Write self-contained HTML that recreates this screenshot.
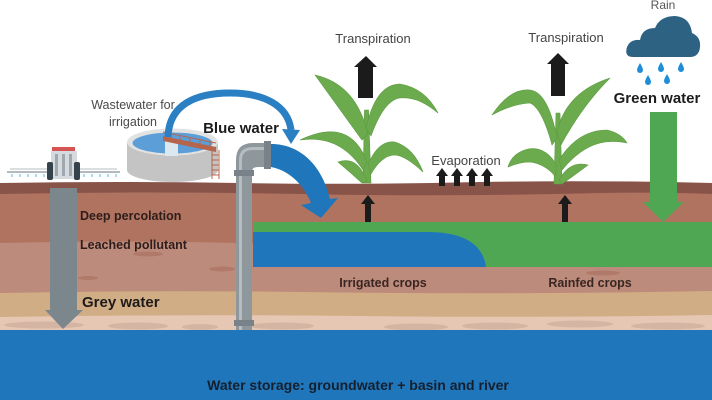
<!DOCTYPE html>
<html><head><meta charset="utf-8">
<style>
html,body{margin:0;padding:0;background:#fff;}
svg{display:block;}
text{font-family:"Liberation Sans",sans-serif;}
</style></head>
<body>
<svg width="712" height="400" viewBox="0 0 712 400" xmlns="http://www.w3.org/2000/svg">
<rect width="712" height="400" fill="#ffffff"/>
<!-- soil layers -->
<path d="M0,183 Q120,181 240,183 Q360,185 480,182 Q600,180 712,183 L712,400 L0,400 Z" fill="#88544a"/>
<path d="M0,194 Q150,191 300,194 Q450,197 600,193 Q660,192 712,194 L712,400 L0,400 Z" fill="#b0735f"/>
<path d="M0,243 Q120,240 240,243 Q400,246 560,242 Q640,241 712,243 L712,400 L0,400 Z" fill="#bd8b7b"/>
<path d="M0,293 Q150,290 300,292 Q500,295 712,291 L712,400 L0,400 Z" fill="#d0ad85"/>
<path d="M0,317 Q180,314 360,316 Q540,318 712,315 L712,400 L0,400 Z" fill="#e5c7b3"/>
<!-- spots -->
<ellipse cx="148" cy="254" rx="15" ry="2.5" fill="#b0796a"/>
<ellipse cx="222" cy="269" rx="13" ry="2.5" fill="#b0796a"/>
<ellipse cx="88" cy="278" rx="10" ry="2" fill="#b0796a"/>
<ellipse cx="603" cy="273" rx="17" ry="2.5" fill="#b0796a"/>
<ellipse cx="44" cy="325" rx="40" ry="3.5" fill="#d4b4a2"/>
<ellipse cx="138" cy="326" rx="30" ry="3.5" fill="#d4b4a2"/>
<ellipse cx="200" cy="327" rx="18" ry="3" fill="#d4b4a2"/>
<ellipse cx="282" cy="326" rx="32" ry="3.5" fill="#d4b4a2"/>
<ellipse cx="416" cy="327" rx="32" ry="3.5" fill="#d4b4a2"/>
<ellipse cx="495" cy="326" rx="33" ry="3.5" fill="#d4b4a2"/>
<ellipse cx="580" cy="324" rx="33" ry="3.5" fill="#d4b4a2"/>
<ellipse cx="668" cy="326" rx="37" ry="3.5" fill="#d4b4a2"/>
<!-- water storage -->
<rect x="0" y="330" width="712" height="70" fill="#2076bb"/>
<text x="358" y="390" text-anchor="middle" font-size="14" font-weight="bold" fill="#14202e">Water storage: groundwater + basin and river</text>
<!-- green & blue root zone -->
<rect x="253" y="222" width="459" height="45" fill="#4fa754"/>
<path d="M253,232 L427,232 Q481,232 486,267 L253,267 Z" fill="#2076bb"/>
<text x="383" y="287" text-anchor="middle" font-size="12.5" font-weight="bold" fill="#3a2622">Irrigated crops</text>
<text x="590" y="287" text-anchor="middle" font-size="12.5" font-weight="bold" fill="#3a2622">Rainfed crops</text>
<!-- grey arrow -->
<rect x="50" y="188" width="27" height="123" fill="#7b868d"/>
<polygon points="45,310 83,310 63,329" fill="#7b868d"/>
<text x="80" y="220" font-size="12.5" font-weight="bold" fill="#2e1d1b">Deep percolation</text>
<text x="80" y="249" font-size="12.5" font-weight="bold" fill="#2e1d1b">Leached pollutant</text>
<text x="82" y="307" font-size="15" font-weight="bold" fill="#1e1a1a">Grey water</text>
<!-- tractor -->
<g>
<line x1="7" y1="172" x2="120" y2="172" stroke="#9aa3a8" stroke-width="1.5"/>
<line x1="10" y1="169" x2="117" y2="169" stroke="#b5bcc0" stroke-width="1"/>
<g stroke="#8fd0ea" stroke-width="1.5">
<line x1="12" y1="174" x2="12" y2="177"/><line x1="20" y1="174" x2="20" y2="177"/><line x1="28" y1="174" x2="28" y2="177"/><line x1="36" y1="174" x2="36" y2="177"/><line x1="44" y1="174" x2="44" y2="177"/>
<line x1="84" y1="174" x2="84" y2="177"/><line x1="92" y1="174" x2="92" y2="177"/><line x1="100" y1="174" x2="100" y2="177"/><line x1="108" y1="174" x2="108" y2="177"/><line x1="116" y1="174" x2="116" y2="177"/>
</g>
<rect x="51" y="151" width="26" height="28" fill="#d5dade"/>
<rect x="55" y="154" width="3" height="22" fill="#9fa8ae"/>
<rect x="62" y="154" width="3" height="22" fill="#9fa8ae"/>
<rect x="69" y="154" width="3" height="22" fill="#9fa8ae"/>
<rect x="52" y="147" width="23" height="4" fill="#d65454"/>
<rect x="47" y="162" width="6" height="18" rx="2" fill="#34424c"/>
<rect x="74" y="162" width="6" height="18" rx="2" fill="#34424c"/>
</g>
<!-- tank -->
<path d="M127,142 L127,170 A45.5,12 0 0 0 218,170 L218,142 Z" fill="#c4c4c4"/>
<ellipse cx="172.5" cy="142" rx="45.5" ry="13.5" fill="#e2e2e2"/>
<ellipse cx="172.5" cy="143" rx="40" ry="10.5" fill="#5c9fd8"/>
<rect x="165" y="140" width="13" height="16" fill="#dce8ef"/>
<polygon points="163,136 216,147 216,152 163,141" fill="#b5654c"/>
<g stroke="#b5654c" stroke-width="1">
<line x1="163" y1="132" x2="216" y2="143"/>
<line x1="170" y1="133" x2="170" y2="139"/><line x1="180" y1="135" x2="180" y2="141"/><line x1="190" y1="137" x2="190" y2="143"/><line x1="200" y1="139" x2="200" y2="145"/><line x1="210" y1="141" x2="210" y2="147"/>
<line x1="212" y1="150" x2="212" y2="179"/><line x1="219" y1="150" x2="219" y2="179"/>
<line x1="212" y1="155" x2="219" y2="155"/><line x1="212" y1="160" x2="219" y2="160"/><line x1="212" y1="165" x2="219" y2="165"/><line x1="212" y1="170" x2="219" y2="170"/><line x1="212" y1="175" x2="219" y2="175"/>
</g>
<text x="133" y="109" text-anchor="middle" font-size="12.5" fill="#4a4a4a">Wastewater for</text>
<text x="133" y="126" text-anchor="middle" font-size="12.5" fill="#4a4a4a">irrigation</text>
<!-- blue arc -->
<path d="M168,137 C169,105 195,93 230,93 C265,93 288,106 291,130" fill="none" stroke="#2b7fc3" stroke-width="7"/>
<polygon points="282,129 300,130 291,144" fill="#2b7fc3"/>
<text x="241" y="133" text-anchor="middle" font-size="15" font-weight="bold" fill="#1c1c1c">Blue water</text>
<!-- pipe -->
<rect x="236" y="165" width="16" height="165" fill="#8e979c"/>
<rect x="239" y="165" width="3" height="165" fill="#b6bdc1"/>
<path d="M236,172 L236,160 Q236,143 253,143 L266,143 L266,167 L258,167 Q252,167 252,172 Z" fill="#8e979c"/>
<path d="M239,170 L239,160 Q239,147 253,147 L266,147 L266,150 L253,150 Q242,150 242,160 L242,170 Z" fill="#b6bdc1"/>
<rect x="234" y="170" width="20" height="6" fill="#788288"/>
<rect x="264" y="141" width="7" height="28" fill="#788288"/>
<rect x="234" y="320" width="20" height="6" fill="#788288"/>
<!-- blue outflow arrow -->
<path d="M271,144 C300,144 322,165 330,199 L338,198 L321,218 L301,205 L311,203 C305,188 292,171 271,167 Z" fill="#2076bb"/>
<!-- plant 1 -->
<g fill="#6cab4d" stroke="#5c9a40" stroke-width="0.6">
<path d="M363,183 L364.5,110 L368.5,110 L371,183 Z"/>
<path d="M368,134 Q356,84 315,75 Q336,104 362,140 Z"/>
<path d="M366,128 Q376,84 400,84 Q425,88 438,113 Q418,96 400,98 Q384,100 371,136 Z"/>
<path d="M367,162 Q350,116 300,140 Q340,134 363,170 Z"/>
<path d="M368,165 Q378,140 395,142 Q414,148 423,172 Q406,156 395,155 Q382,155 371,174 Z"/>
<path d="M367,181 Q357,155 338,162 Q350,172 362,183 Z"/>
</g>
<!-- plant 2 -->
<g fill="#6cab4d" stroke="#5c9a40" stroke-width="0.6">
<path d="M554,184 L556,113 L560,113 L562,184 Z"/>
<path d="M557,138 Q548,92 530,90 Q510,88 492,115 Q512,104 530,103 Q542,108 552,145 Z"/>
<path d="M557,132 Q566,92 610,78 Q582,106 561,145 Z"/>
<path d="M559,160 Q578,130 607,130 Q621,133 627,143 Q612,140 600,143 Q580,148 562,170 Z"/>
<path d="M557,166 Q546,146 528,149 Q512,153 508,167 Q520,162 530,162 Q545,164 555,176 Z"/>
<path d="M559,180 Q570,160 588,165 Q576,174 562,184 Z"/>
</g>
<!-- transpiration -->
<text x="373" y="43" text-anchor="middle" font-size="13" fill="#444">Transpiration</text>
<polygon points="354,67 366,56 377,67 373,67 373,98 358,98 358,67" fill="#1b1b1b"/>
<text x="566" y="42" text-anchor="middle" font-size="13" fill="#444">Transpiration</text>
<polygon points="547,64 558,53 569,64 565,64 565,96 551,96 551,64" fill="#1b1b1b"/>
<!-- evaporation -->
<text x="466" y="165" text-anchor="middle" font-size="13" fill="#444">Evaporation</text>
<g fill="#1b1b1b">
<polygon points="436,176 442,168 448,176 445,176 445,186 439,186 439,176"/>
<polygon points="451,176 457,168 463,176 460,176 460,186 454,186 454,176"/>
<polygon points="466,176 472,168 478,176 475,176 475,186 469,186 469,176"/>
<polygon points="481,176 487,168 493,176 490,176 490,186 484,186 484,176"/>
<polygon points="361,204 368,195 375,204 371,204 371,222 365,222 365,204"/>
<polygon points="558,204 565,195 572,204 568,204 568,222 562,222 562,204"/>
</g>
<!-- rain cloud -->
<text x="663" y="9" text-anchor="middle" font-size="12" fill="#555">Rain</text>
<path d="M633,57 Q624,57 627,47 Q630,39 640,40 Q642,28 655,28 Q660,16 675,16 Q690,17 692,33 Q701,37 700,47 Q699,57 690,57 Z" fill="#2d6282"/>
<g fill="#1e8fd6">
<path d="M640,63 Q643,68 643,70 A3,3 0 0 1 637,70 Q637,68 640,63 Z"/>
<path d="M661,62 Q664,67 664,69 A3,3 0 0 1 658,69 Q658,67 661,62 Z"/>
<path d="M681,62 Q684,67 684,69 A3,3 0 0 1 678,69 Q678,67 681,62 Z"/>
<path d="M648,75 Q651,80 651,82 A3,3 0 0 1 645,82 Q645,80 648,75 Z"/>
<path d="M667,74 Q670,79 670,81 A3,3 0 0 1 664,81 Q664,79 667,74 Z"/>
</g>
<text x="657" y="103" text-anchor="middle" font-size="15" font-weight="bold" fill="#1c1c1c">Green water</text>
<rect x="650" y="112" width="27" height="91" fill="#4fa754"/>
<polygon points="643,202 684,202 663,222" fill="#4fa754"/>
</svg>
</body></html>
